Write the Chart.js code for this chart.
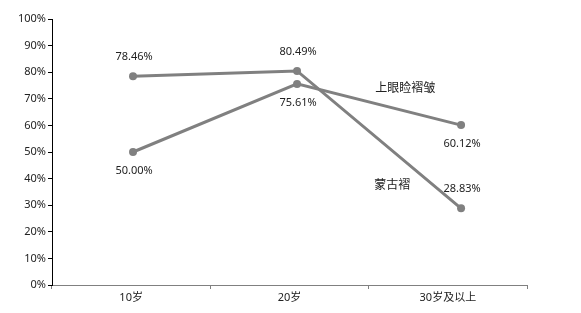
<!DOCTYPE html>
<html>
<head>
<meta charset="utf-8">
<script src="https://cdn.jsdelivr.net/npm/chart.js@4/dist/chart.umd.min.js"></script>
<style>
  html, body { margin: 0; padding: 0; background: #fff; }
  #wrap { width: 581px; height: 313px; }
</style>
</head>
<body>
<div id="wrap"><canvas id="chart"></canvas></div>
<script>
const categories = ['10岁', '20岁', '30岁及以上'];
const mongolFold = [78.46, 80.49, 28.83];
const eyelidFold = [50.00, 75.61, 60.12];
const seriesNames = ['蒙古褶', '上眼睑褶皱'];
const yTicks = [0, 10, 20, 30, 40, 50, 60, 70, 80, 90, 100];

// where the series names sit, in data units (x index, y %)
const nameSpots = [[1.58, 37.2], [1.66, 73.7]];
// label above (-1) or below (+1) each point
const mongolSide = [-1, -1, -1];
const eyelidSide = [1, 1, 1];

const FONT = "'Noto Sans', 'Noto Sans CJK SC', sans-serif";
const GREY = '#808080';

const toPoints = (vals) => vals.map((v, i) => ({ x: i, y: v }));

const labelPlugin = {
  id: 'labels',
  afterDatasetsDraw(chart) {
    const ctx = chart.ctx;
    const sides = [mongolSide, eyelidSide];
    ctx.save();
    ctx.font = '11px ' + FONT;
    ctx.fillStyle = '#222';
    ctx.textAlign = 'center';
    ctx.textBaseline = 'middle';
    chart.data.datasets.forEach((ds, di) => {
      chart.getDatasetMeta(di).data.forEach((pt, i) => {
        const side = sides[di][i];
        ctx.fillText(ds.data[i].y.toFixed(2) + '%', pt.x + 1, pt.y + side * 19);
      });
    });
    const xs = chart.scales.x2;
    const ys = chart.scales.y;
    ctx.font = '12px ' + FONT;
    nameSpots.forEach((p, i) => {
      ctx.fillText(seriesNames[i], xs.getPixelForValue(p[0]), ys.getPixelForValue(p[1]));
    });
    ctx.restore();
  }
};

new Chart(document.getElementById('chart'), {
  type: 'line',
  data: {
    labels: categories,
    datasets: [
      {
        label: seriesNames[0],
        data: toPoints(mongolFold),
        xAxisID: 'x2',
        borderColor: GREY,
        backgroundColor: GREY,
        borderWidth: 3,
        pointRadius: 4,
        pointBackgroundColor: GREY,
        pointBorderWidth: 0,
        tension: 0,
      },
      {
        label: seriesNames[1],
        data: toPoints(eyelidFold),
        xAxisID: 'x2',
        borderColor: GREY,
        backgroundColor: GREY,
        borderWidth: 3,
        pointRadius: 4,
        pointBackgroundColor: GREY,
        pointBorderWidth: 0,
        tension: 0,
      },
    ],
  },
  options: {
    responsive: true,
    maintainAspectRatio: false,
    animation: false,
    layout: { padding: { top: 19, right: 54, left: 0, bottom: 0 } },
    plugins: {
      legend: { display: false },
      tooltip: { enabled: false },
    },
    scales: {
      x: {
        type: 'category',
        offset: true,
        grid: {
          offset: true,
          drawOnChartArea: false,
          color: GREY,
          tickLength: 4,
        },
        border: { color: GREY, width: 1 },
        ticks: {
          color: '#222',
          font: { family: FONT, size: 11 },
          padding: 2,
          maxRotation: 0,
        },
        afterFit: (s) => { s.height = 28; },
      },
      x2: {
        type: 'linear',
        display: false,
        min: -0.494,
        max: 2.402,
      },
      y: {
        min: 0,
        max: 100,
        afterBuildTicks: (s) => { s.ticks = yTicks.map(v => ({ value: v })); },
        grid: {
          drawOnChartArea: false,
          color: '#000',
          tickLength: 4,
        },
        border: { color: '#000', width: 1 },
        ticks: {
          color: '#222',
          font: { family: FONT, size: 11 },
          padding: 2,
          callback: (v) => v + '%',
        },
        afterFit: (s) => { s.width = 52; },
      },
    },
  },
  plugins: [labelPlugin],
});
</script>
</body>
</html>
